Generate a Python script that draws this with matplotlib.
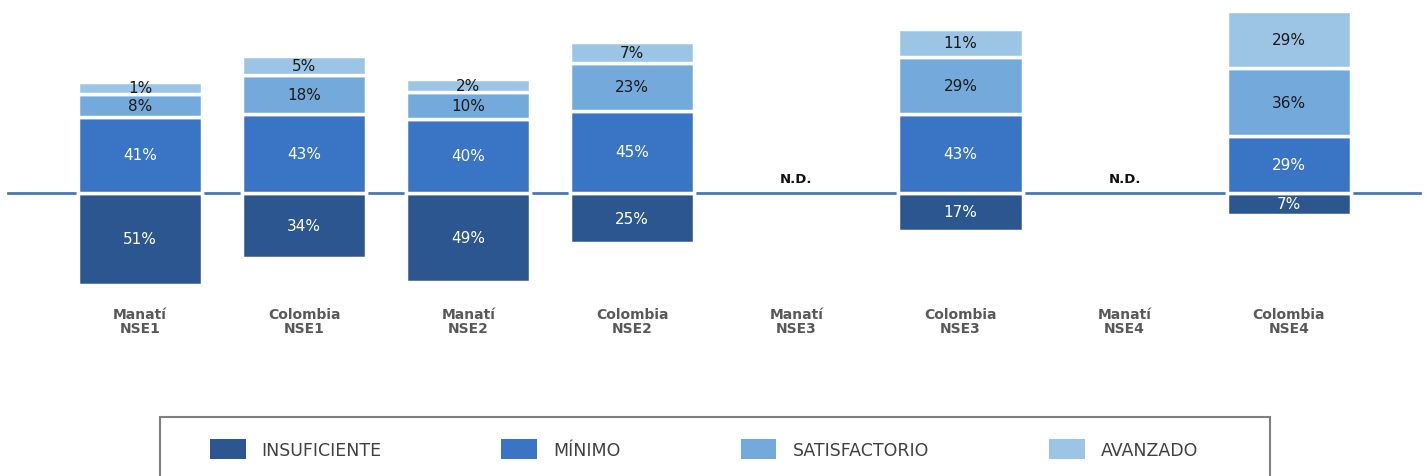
import numpy as np
import matplotlib.pyplot as plt
from matplotlib.patches import Patch, Rectangle

# data (percent of students per level)
categories = ["Manatí\nNSE1", "Colombia\nNSE1", "Manatí\nNSE2", "Colombia\nNSE2",
              "Manatí\nNSE3", "Colombia\nNSE3", "Manatí\nNSE4", "Colombia\nNSE4"]
insuficiente = [51, 34, 49, 25, np.nan, 17, np.nan, 7]
minimo = [41, 43, 40, 45, np.nan, 43, np.nan, 29]
satisfactorio = [8, 18, 10, 23, np.nan, 29, np.nan, 36]
avanzado = [1, 5, 2, 7, np.nan, 11, np.nan, 29]
levels = ["INSUFICIENTE", "MÍNIMO", "SATISFACTORIO", "AVANZADO"]
colors = ["#2b5690", "#3a74c4", "#74a9db", "#9cc4e4"]
text_colors = ["white", "white", "#1a1a1a", "#1a1a1a"]

# the original chart gives every segment a minimum visible height
seg_pad = 6.5

fig = plt.figure(figsize=(14.27, 4.77), dpi=100)
# axes spans pixel rows 0..300, baseline at ~194
ax = fig.add_axes([0, 1 - 300 / 477, 1, 300 / 477])
x = np.arange(len(categories))
w = 0.756

ins = np.array(insuficiente, dtype=float)
mn = np.array(minimo, dtype=float)
sat = np.array(satisfactorio, dtype=float)
av = np.array(avanzado, dtype=float)

ax.axhline(0, xmin=8 / 1427, xmax=1420 / 1427, color="#4a78b2", linewidth=2, zorder=0.5)

# negative side
ins_h = ins + seg_pad
ax.bar(x, -ins_h, w, color=colors[0], edgecolor="white", linewidth=2.5)
# positive side, stacked
bottoms = np.zeros(len(x))
for k, vals in enumerate([mn, sat, av]):
    h = vals + seg_pad
    ax.bar(x, h, w, bottom=bottoms, color=colors[k + 1], edgecolor="white", linewidth=2.5)
    for i in range(len(x)):
        if not np.isnan(vals[i]):
            ax.text(x[i], bottoms[i] + h[i] / 2, f"{int(vals[i])}%", ha="center", va="center",
                    color=text_colors[k + 1], fontsize=11)
    bottoms = bottoms + np.nan_to_num(h)

for i in range(len(x)):
    if np.isnan(ins[i]):
        ax.text(x[i], 9, "N.D.", ha="center", va="center", fontsize=9.5, fontweight="bold", color="#111111")
    else:
        ax.text(x[i], -ins_h[i] / 2, f"{int(ins[i])}%", ha="center", va="center",
                color="white", fontsize=11)

ax.set_xlim(-140 / 164.1, (1427 - 140) / 164.1)
ax.set_ylim(-66.25, 121.25)
ax.set_xticks(x)
ax.set_xticklabels(categories, fontsize=10, fontweight="bold", color="#595959", linespacing=1.0)
ax.tick_params(axis="x", length=0, pad=6)
ax.set_yticks([])
for s in ax.spines.values():
    s.set_visible(False)

# legend box (cut off at the bottom like the original)
fig.patches.append(Rectangle((160 / 1427, -0.2), 1110 / 1427, 0.2 + (477 - 418) / 477,
                             transform=fig.transFigure, fill=False, edgecolor="#7f7f7f",
                             linewidth=1.5))
handles = [Patch(facecolor=c, edgecolor="none") for c in colors]
fig.legend(handles, levels, loc="center left", bbox_to_anchor=(194 / 1427, 1 - 450 / 477),
           ncol=4, frameon=False, fontsize=12.5, handlelength=2.07, handleheight=1.44,
           handletextpad=0.92, columnspacing=6.9, labelcolor="#404040")

fig.savefig("out.png", dpi=100)
